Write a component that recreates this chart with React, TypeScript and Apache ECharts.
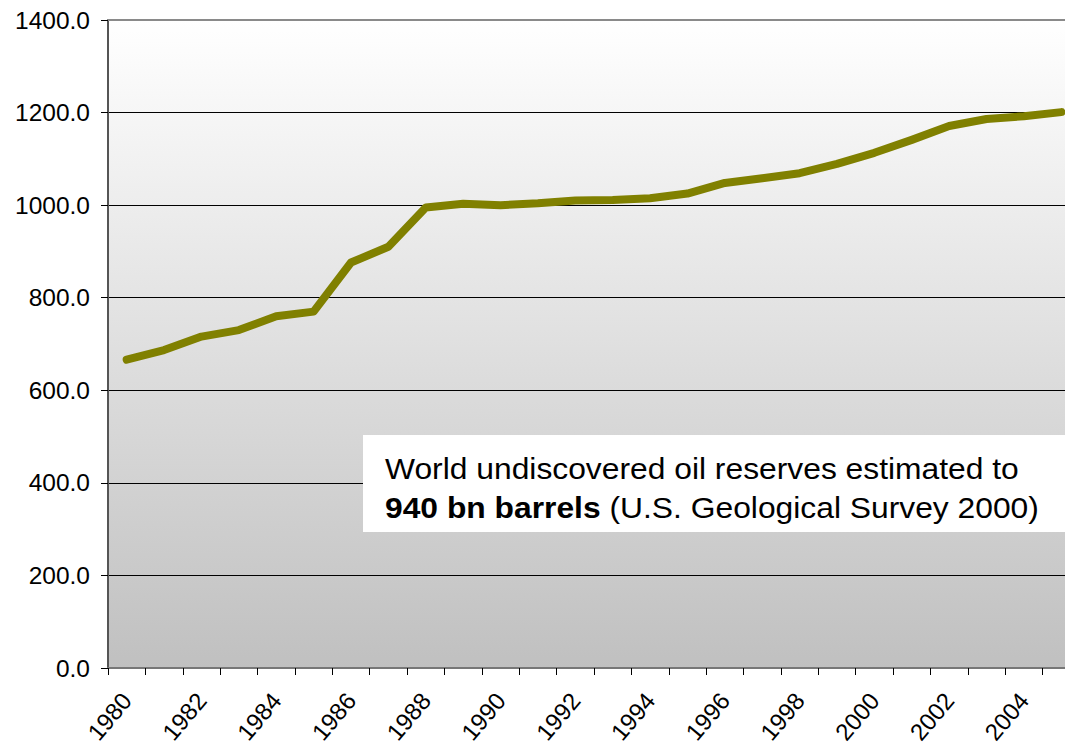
import React, { useEffect, useRef } from "react";
import * as echarts from "echarts";

const years = [
  "1980", "1981", "1982", "1983", "1984", "1985", "1986", "1987", "1988", "1989",
  "1990", "1991", "1992", "1993", "1994", "1995", "1996", "1997", "1998", "1999",
  "2000", "2001", "2002", "2003", "2004", "2005",
];
const reserves = [
  666, 687, 716, 730, 760, 770, 876, 910, 995, 1003,
  1000, 1004, 1010, 1011, 1015, 1025, 1048, 1058, 1069, 1089,
  1113, 1141, 1171, 1186, 1192, 1201,
];
const yTicks = { min: 0, max: 1400, interval: 200 };
const noteLine1 = "World undiscovered oil reserves estimated to";
const noteBold = "940 bn barrels";
const noteRest = " (U.S. Geological Survey 2000)";

export default function App() {
  const ref = useRef<HTMLDivElement>(null);
  useEffect(() => {
    document.body.style.margin = "0";
    const chart = echarts.init(ref.current!, null, { renderer: "svg" });
    chart.setOption({
      animation: false,
      backgroundColor: "#ffffff",
      grid: {
        left: 108,
        right: 0,
        top: 20,
        bottom: 82,
        show: true,
        borderWidth: 0,
        backgroundColor: new echarts.graphic.LinearGradient(0, 0, 0, 1, [
          { offset: 0, color: "#ffffff" },
          { offset: 1, color: "#c0c0c0" },
        ]),
      },
      xAxis: [
        {
          type: "category",
          data: years,
          boundaryGap: true,
          axisLine: { lineStyle: { color: "#777777", width: 2 } },
          axisTick: { show: true, interval: 0, length: 7, lineStyle: { color: "#000", width: 1 } },
          axisLabel: {
            interval: 1,
            rotate: 50,
            margin: 28,
            fontFamily: "Liberation Sans, Arial",
            fontSize: 24,
            color: "#000",
          },
          splitLine: { show: false },
        },
        {
          type: "category",
          data: years,
          position: "top",
          axisLine: { lineStyle: { color: "#8a8a8a", width: 2 } },
          axisTick: { show: false },
          axisLabel: { show: false },
        },
      ],
      yAxis: {
        type: "value",
        min: yTicks.min,
        max: yTicks.max,
        interval: yTicks.interval,
        axisLine: { show: true, lineStyle: { color: "#555555", width: 2 } },
        axisTick: { show: true, length: 7, lineStyle: { color: "#000", width: 1 } },
        axisLabel: {
          formatter: (v: number) => v.toFixed(1),
          fontFamily: "Liberation Sans, Arial",
          fontSize: 24.5,
          color: "#000",
          margin: 18,
        },
        splitLine: { show: true, lineStyle: { color: "#000", width: 1 } },
      },
      series: [
        {
          type: "line",
          data: reserves,
          xAxisIndex: 0,
          showSymbol: false,
          symbol: "none",
          lineStyle: { color: "#808000", width: 8, cap: "round", join: "round" },
        },
      ],
      graphic: [
        {
          type: "rect",
          shape: { x: 363, y: 435, width: 720, height: 97 },
          style: { fill: "#ffffff" },
          z: 100,
        },
        {
          type: "text",
          x: 385,
          y: 449,
          scaleX: 1.06,
          z: 101,
          style: {
            text: noteLine1 + "\n{b|" + noteBold + "}" + noteRest,
            fontFamily: "Liberation Sans, Arial",
            fontSize: 30,
            lineHeight: 39,
            fill: "#000",
            rich: {
              b: { fontWeight: "bold", fontFamily: "Liberation Sans, Arial", fontSize: 30, lineHeight: 39 },
            },
          },
        },
      ],
    });
    return () => chart.dispose();
  }, []);
  return (
    <div style={{ width: 1065, height: 750, overflow: "hidden" }}>
      <div ref={ref} style={{ width: 1080, height: 750 }} />
    </div>
  );
}
